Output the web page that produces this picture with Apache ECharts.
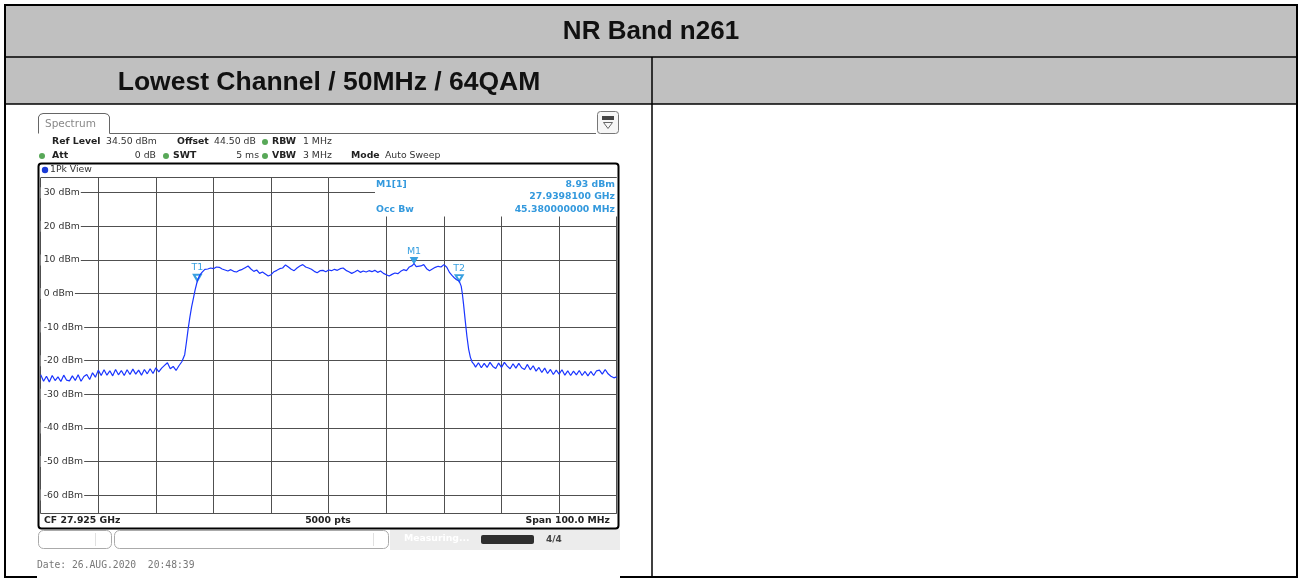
<!DOCTYPE html>
<html><head><meta charset="utf-8">
<script src="https://cdn.jsdelivr.net/npm/echarts@6/dist/echarts.min.js"></script>
<style>html,body{margin:0;padding:0;background:#fff;}#c{width:1301px;height:578px;}</style>
</head><body><div id="c"></div>
<script>
// Sweep: CF 27.925 GHz, span 100 MHz -> x is MHz offset from 27.875 GHz
const freqMHz = [
 0,0.5,1,1.5,2,2.5,3,3.5,4,4.5,5,5.5,6,6.5,7,7.5,8,8.5,9,9.5,
 10,10.5,11,11.5,12,12.5,13,13.5,14,14.5,15,15.5,16,16.5,17,17.5,18,18.5,19,19.5,
 20,20.5,21,21.5,22,22.5,23,23.5,24,24.5,
 25,25.3,25.6,25.9,26.2,26.5,26.8,27.2,27.6,28,28.5,
 29,29.5,30,30.5,31,31.5,32,32.5,33,33.5,34,34.5,35,35.5,36,36.5,37,37.5,38,38.5,
 39,39.5,40,40.5,41,41.5,42,42.5,43,43.5,44,44.5,45,45.5,46,46.5,47,47.5,48,48.5,
 49,49.5,50,50.5,51,51.5,52,52.5,53,53.5,54,54.5,55,55.5,56,56.5,57,57.5,58,58.5,
 59,59.5,60,60.5,61,61.5,62,62.5,63,63.5,64,64.5,64.81,65.2,65.5,66,66.5,67,67.5,68,
 68.5,69,69.5,70,70.5,71,71.4,71.8,72.2,72.65,73,73.2,73.4,73.7,74,74.3,74.6,74.9,75.2,
 75.5,76,76.5,77,77.5,78,78.5,79,79.5,80,80.5,81,81.5,82,82.5,83,83.5,84,84.5,85,
 85.5,86,86.5,87,87.5,88,88.5,89,89.5,90,90.5,91,91.5,92,92.5,93,93.5,94,94.5,95,
 95.5,96,96.5,97,97.5,98,98.5,99,99.5,100
];
const levelDbm = [
 -24.2,-26.1,-24.6,-26.3,-24.4,-25.9,-24.8,-26.2,-24.3,-25.8,-26.0,-24.5,-25.9,-24.2,-26.1,-24.7,-24.1,-25.6,-23.6,-24.9,
 -22.8,-24.4,-22.7,-24.3,-23.0,-24.5,-22.6,-24.2,-22.9,-24.4,-22.7,-24.1,-22.5,-24.0,-22.8,-24.3,-22.6,-23.9,-22.4,-23.8,
 -22.1,-23.3,-22.2,-21.4,-20.6,-22.4,-21.7,-22.9,-21.5,-20.3,
 -18.2,-14.5,-10.5,-7.0,-4.0,-1.5,1.0,3.8,5.4,6.3,7.2,
 7.3,7.6,7.4,7.9,7.8,7.3,7.0,6.7,7.1,6.6,6.4,6.9,7.2,7.7,8.2,7.3,6.6,7.0,6.0,6.4,
 5.8,5.2,5.6,6.5,6.9,7.4,7.6,8.5,7.9,7.2,6.8,7.6,8.2,8.6,7.9,7.6,7.2,6.6,6.2,6.8,
 6.9,6.5,7.0,6.8,7.2,6.9,7.4,7.6,6.9,6.5,6.0,6.4,6.9,6.3,6.7,6.4,6.8,6.5,6.9,6.3,
 6.7,6.0,5.6,5.2,5.7,6.1,5.9,6.6,7.1,6.8,7.9,8.3,8.93,8.0,7.6,8.2,8.6,7.4,6.8,7.3,
 7.8,8.1,7.9,8.6,7.8,6.2,5.4,4.7,4.1,3.7,2.2,0.0,-3.0,-8.0,-12.8,-16.6,-19.0,-20.4,-21.0,
 -21.9,-20.6,-22.1,-20.8,-22.0,-20.5,-21.7,-22.3,-20.7,-22.0,-20.5,-21.6,-22.4,-20.9,-22.2,-20.8,-22.1,-22.6,-21.1,-22.7,
 -21.5,-23.1,-22.0,-23.5,-22.2,-23.8,-22.6,-24.1,-22.8,-24.0,-22.7,-24.3,-23.0,-24.4,-23.1,-24.2,-22.9,-24.4,-23.2,-24.5,
 -23.2,-24.4,-23.0,-22.8,-24.0,-22.6,-23.9,-24.6,-25.1,-24.8
];
const markerNames = ['T1', 'T2', 'M1'];
const markerFreqMHz = [27.2, 72.65, 64.81];
const markerDbm = [3.8, 3.7, 8.93];
const refLevelDbm = 34.5;
const bottomDbm = -65.5;
const spanMHz = 100;

const chart = echarts.init(document.getElementById('c'), null, {renderer: 'canvas'});
const SANS = 'DejaVu Sans';
const BLUE_TXT = '#3399dd';
function T(x, y, text, o) {
  o = o || {};
  return {type: 'text', x: x, y: y, z: o.z || 20, style: {
    text: text, fill: o.fill || '#222', fontSize: o.size || 9.3,
    fontFamily: o.family || SANS, fontWeight: o.bold ? 'bold' : 'normal',
    textAlign: o.align || 'left', align: o.align || 'left',
    textVerticalAlign: 'middle', verticalAlign: 'middle'}};
}
function L(x1, y1, x2, y2, color, w, z) {
  return {type: 'line', z: z || 20, shape: {x1: x1, y1: y1, x2: x2, y2: y2},
    style: {stroke: color, lineWidth: w}};
}
function R(x, y, w, h, o) {
  return {type: 'rect', z: o.z || 20, shape: {x: x, y: y, width: w, height: h, r: o.r || 0},
    style: {fill: o.fill || 'none', stroke: o.stroke || null, lineWidth: o.lw || 1}};
}
function C(cx, cy, r, fill) {
  return {type: 'circle', z: 20, shape: {cx: cx, cy: cy, r: r}, style: {fill: fill}};
}
const GREEN = '#58a858';
const els = [
  // table
  R(5, 5, 1292, 99, {fill: '#c0c0c0', z: 1}),
  L(5, 5, 1297, 5, '#000', 2), L(5, 4, 5, 578, '#000', 2), L(1297, 4, 1297, 578, '#000', 2),
  L(5, 57, 1297, 57, '#000', 1.5), L(5, 104, 1297, 104, '#000', 1.5),
  L(652, 57, 652, 578, '#000', 1.5),
  L(5, 577, 37, 577, '#000', 2), L(620, 577, 1297, 577, '#000', 2),
  T(651, 32, 'NR Band n261', {bold: true, size: 26, family: 'Liberation Sans', fill: '#111', align: 'center'}),
  T(329, 83, 'Lowest Channel / 50MHz / 64QAM', {bold: true, size: 26.5, family: 'Liberation Sans', fill: '#111', align: 'center'}),
  // analyzer tab
  {type: 'polyline', z: 20, shape: {points: [[38.5, 133.5], [38.5, 117], [40, 114.5], [43, 113.5], [105, 113.5], [108, 114.5], [109.5, 117], [109.5, 133.5], [596, 133.5]]},
    style: {fill: 'none', stroke: '#666', lineWidth: 1}},
  T(45, 124, 'Spectrum', {fill: '#888', size: 10.5}),
  R(597.5, 111.5, 21, 22, {r: 3, stroke: '#777', fill: '#f6f6f6'}),
  R(602, 116, 12, 4, {fill: '#444'}),
  {type: 'polygon', z: 21, shape: {points: [[603.5, 122.5], [612.5, 122.5], [608, 128.5]]}, style: {fill: 'none', stroke: '#666', lineWidth: 1}},
  // info lines
  T(52, 142, 'Ref Level', {bold: true}), T(106, 142, '34.50 dBm', {fill: '#333'}),
  T(177, 142, 'Offset', {bold: true}), T(214, 142, '44.50 dB', {fill: '#333'}),
  C(265, 142, 3, GREEN), T(272, 142, 'RBW', {bold: true}), T(303, 142, '1 MHz', {fill: '#333'}),
  C(42, 156, 3, GREEN), T(52, 156, 'Att', {bold: true}), T(156, 156, '0 dB', {fill: '#333', align: 'right'}),
  C(166, 156, 3, GREEN), T(173, 156, 'SWT', {bold: true}), T(259, 156, '5 ms', {fill: '#333', align: 'right'}),
  C(265, 156, 3, GREEN), T(272, 156, 'VBW', {bold: true}), T(303, 156, '3 MHz', {fill: '#333'}),
  T(351, 156, 'Mode', {bold: true}), T(385, 156, 'Auto Sweep', {fill: '#333'}),
  // frame
  R(38.5, 163.5, 580, 365, {r: 3, stroke: '#000', lw: 2, z: 30}),
  C(45, 170, 3.2, '#1a3bd6'), T(50, 170, '1Pk View', {fill: '#333'}),
  // marker info box
  R(375, 178, 242, 38.5, {fill: '#fff', z: 15}),
  T(376, 185, 'M1[1]', {bold: true, fill: BLUE_TXT}),
  T(615, 185, markerDbm[2].toFixed(2) + ' dBm', {bold: true, fill: BLUE_TXT, align: 'right'}),
  T(615, 197, '27.9398100 GHz', {bold: true, fill: BLUE_TXT, align: 'right'}),
  T(376, 210, 'Occ Bw', {bold: true, fill: BLUE_TXT}),
  T(615, 210, '45.380000000 MHz', {bold: true, fill: BLUE_TXT, align: 'right'}),
  // bottom bar
  T(44, 521, 'CF 27.925 GHz', {bold: true}),
  T(328, 521, '5000 pts', {bold: true, align: 'center'}),
  T(610, 521, 'Span 100.0 MHz', {bold: true, align: 'right'}),
  // status bar
  R(38.5, 530.5, 73, 18, {r: 5, stroke: '#aaa', fill: '#fff'}),
  L(95.5, 533, 95.5, 546, '#e0e0e0', 1),
  R(114.5, 530.5, 274, 18, {r: 5, stroke: '#aaa', fill: '#fff'}),
  L(373.5, 533, 373.5, 546, '#e0e0e0', 1),
  R(390, 529, 230, 21, {fill: '#ececec', z: 18}),
  T(404, 539, 'Measuring...', {fill: '#fff', bold: true}),
  R(481, 535, 53, 9, {r: 2, fill: '#2e2e2e'}),
  T(546, 539.5, '4/4', {fill: '#444', bold: true, size: 9}),
  T(37, 565, 'Date: 26.AUG.2020  20:48:39', {fill: '#777', size: 9.7, family: 'DejaVu Sans Mono'})
];

const option = {
  animation: false,
  backgroundColor: '#fff',
  grid: {left: 40.7, top: 177.6, width: 576, height: 336, containLabel: false},
  xAxis: {type: 'value', min: 0, max: spanMHz, interval: 10,
    axisLine: {show: false}, axisTick: {show: false}, axisLabel: {show: false},
    splitLine: {show: true, lineStyle: {color: '#505050', width: 1}}},
  yAxis: {type: 'value', min: bottomDbm, max: refLevelDbm, splitNumber: 10,
    axisLine: {show: false}, axisTick: {show: false},
    axisLabel: {inside: true, margin: 0, color: '#333', fontSize: 9.3, fontFamily: SANS,
      backgroundColor: '#fff', padding: [1, 1, 1, 3], showMinLabel: false, showMaxLabel: false,
      formatter: function (v) { return Math.abs(v % 10) < 1e-9 ? v + ' dBm' : ''; }},
    splitLine: {show: true, lineStyle: {color: '#505050', width: 1}}},
  series: [{
    type: 'line', name: '1Pk', showSymbol: false, symbol: 'none', z: 5,
    data: freqMHz.map(function (f, i) { return [f, levelDbm[i]]; }),
    lineStyle: {color: '#1a35ff', width: 1.2},
    markPoint: {
      animation: false,
      data: markerNames.map(function (n, i) {
        return {name: n, coord: [markerFreqMHz[i], markerDbm[i]],
          symbol: n === 'M1' ? 'triangle' : 'emptyTriangle', symbolRotate: 180,
          symbolSize: [7, 6], symbolOffset: [0, -3],
          itemStyle: {color: '#39a0e0', borderColor: '#39a0e0', borderWidth: 1},
          label: {show: true, position: 'top', distance: 1, formatter: n,
            color: '#39a0e0', fontSize: 9.5, fontFamily: SANS}};
      })
    }
  }],
  graphic: {elements: els}
};
chart.setOption(option);
</script></body></html>
